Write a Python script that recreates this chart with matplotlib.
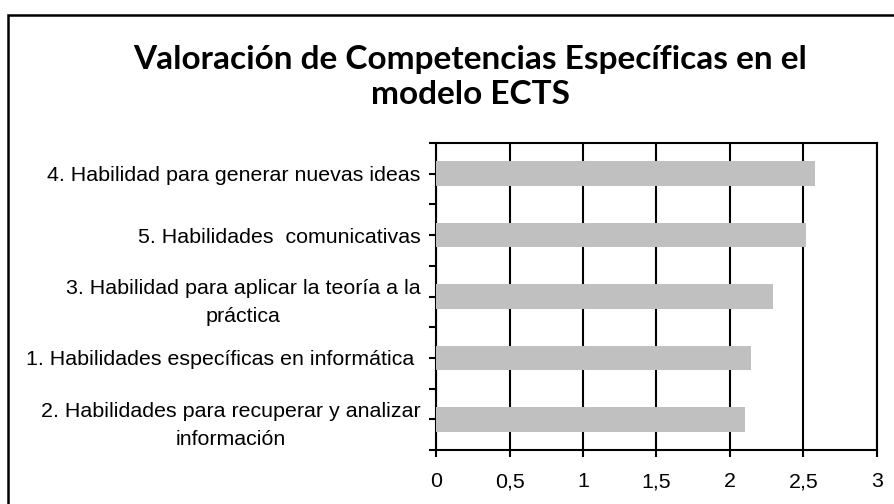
import matplotlib
matplotlib.use("Agg")
import matplotlib.pyplot as plt
from matplotlib.patches import Rectangle
from matplotlib.ticker import FixedLocator, FuncFormatter


# bottom to top, as drawn
categories = [
    "2. Habilidades para recuperar y analizar\ninformación",
    "1. Habilidades específicas en informática ",
    "3. Habilidad para aplicar la teoría a la\npráctica",
    "5. Habilidades  comunicativas",
    "4. Habilidad para generar nuevas ideas",
]
values = [2.10, 2.14, 2.29, 2.52, 2.58]
x_ticks = [0, 0.5, 1, 1.5, 2, 2.5, 3]

TITLE = "Valoración de Competencias Específicas en el\nmodelo ECTS"

fig = plt.figure(figsize=(8.94, 5.04), dpi=100)
ax = fig.add_axes([436 / 894, 54 / 504, 441 / 894, 307 / 504])

positions = list(range(len(categories)))
ax.barh(positions, values, height=0.4, color="#C0C0C0", zorder=3)

ax.set_xlim(0, 3)
ax.set_ylim(-0.5, len(categories) - 0.5)
ax.xaxis.set_major_locator(FixedLocator(x_ticks))
ax.xaxis.set_major_formatter(
    FuncFormatter(lambda v, _: f"{v:g}".replace(".", ","))
)
ax.grid(axis="x", color="black", linewidth=1.5, zorder=1)

ax.set_yticks(positions)
ax.set_yticklabels(categories, multialignment="center")
ax.set_yticks([p - 0.5 for p in positions] + [len(categories) - 0.5], minor=True)

for lbl in ax.get_yticklabels() + ax.get_xticklabels():
    lbl.set_fontfamily("Liberation Sans")
    lbl.set_fontsize(15.4)
    lbl.set_linespacing(1.55)

ax.tick_params(axis="y", which="both", length=5, width=1.5, pad=6, direction="out")
ax.tick_params(axis="x", length=5, width=1.5, pad=11, direction="out")

for spine in ax.spines.values():
    spine.set_linewidth(1.5)
    spine.set_color("black")

fig.text(
    470 / 894, 1 - 77 / 504, TITLE,
    ha="center", va="center", fontsize=24, fontweight="bold",
    family="Lato", linespacing=1.28,
)

# chart area border
fig.patches.append(
    Rectangle((8 / 894, -0.05), 1.1, 1.05 - 15 / 504,
              transform=fig.transFigure, fill=False,
              edgecolor="black", linewidth=1.8)
)

fig.savefig("out.png", dpi=100)
